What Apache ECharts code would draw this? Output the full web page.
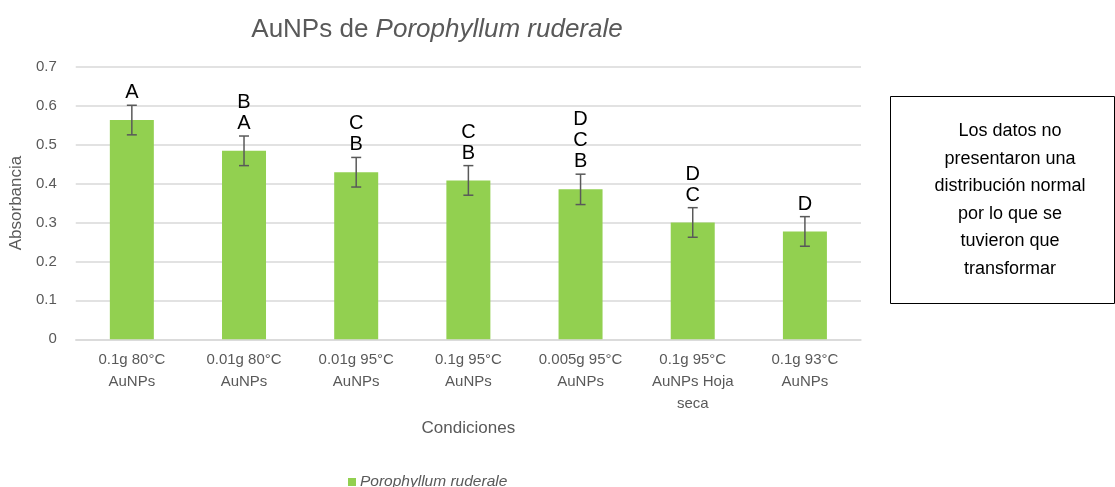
<!DOCTYPE html>
<html><head><meta charset="utf-8">
<script src="https://cdn.jsdelivr.net/npm/echarts@6/dist/echarts.min.js"></script>
<style>html,body{margin:0;padding:0;background:#fff}#c{width:1115px;height:487px}</style>
</head><body><div id="c"></div>
<script>
const categories = ["0.1g 80°C\nAuNPs","0.01g 80°C\nAuNPs","0.01g 95°C\nAuNPs","0.1g 95°C\nAuNPs","0.005g 95°C\nAuNPs","0.1g 95°C\nAuNPs Hoja\nseca","0.1g 93°C\nAuNPs"];
const values = [0.563, 0.484, 0.429, 0.408, 0.385, 0.300, 0.277];
const errors = [0.038, 0.038, 0.038, 0.038, 0.039, 0.038, 0.038];
const letters = ["A", "B\nA", "C\nB", "C\nB", "D\nC\nB", "D\nC", "D"];
const yTicks = [0, 0.1, 0.2, 0.3, 0.4, 0.5, 0.6, 0.7];
const noteText = "Los datos no\npresentaron una\ndistribución normal\npor lo que se\ntuvieron que\ntransformar";

const FONT = 'Arial, "Liberation Sans", sans-serif';
const GREY = '#595959';
const chart = echarts.init(document.getElementById('c'), null, {renderer:'canvas'});
const errData = values.map((v,i)=>[i, v - errors[i], v + errors[i], letters[i]]);

chart.setOption({
  animation:false,
  textStyle:{fontFamily:FONT},
  title:{
    text:'{n|AuNPs de }{i|Porophyllum ruderale}',
    left:432, top:12, textAlign:'center',
    textStyle:{fontWeight:'normal', rich:{
      n:{fontSize:26, color:GREY, fontFamily:FONT, fontWeight:'normal'},
      i:{fontSize:26, color:GREY, fontStyle:'italic', fontFamily:FONT, fontWeight:'normal'}
    }}
  },
  legend:{
    data:['Porophyllum ruderale'], top:469, left:343, itemWidth:8, itemHeight:8,
    icon:'rect', itemGap:5,
    textStyle:{color:GREY, fontSize:15.5, fontStyle:'italic', fontFamily:FONT, padding:[0,0,0,-1]}
  },
  grid:{left:74, right:254, top:66.7, bottom:147.7, containLabel:false},
  xAxis:{
    type:'category', data:categories,
    name:'Condiciones', nameLocation:'middle', nameGap:81,
    nameTextStyle:{color:GREY, fontSize:17, fontFamily:FONT},
    axisLine:{lineStyle:{color:'#D9D9D9', width:1.5}},
    axisTick:{show:false},
    axisLabel:{color:GREY, fontSize:15, lineHeight:22, interval:0, margin:10, fontFamily:FONT}
  },
  yAxis:{
    type:'value', min:0, max:0.7, interval:0.1,
    name:'Absorbancia', nameLocation:'middle', nameGap:46,
    nameTextStyle:{color:GREY, fontSize:17, fontFamily:FONT},
    axisLine:{show:false}, axisTick:{show:false},
    splitLine:{lineStyle:{color:'#D9D9D9', width:1.5}},
    axisLabel:{color:GREY, fontSize:15, margin:19, fontFamily:FONT,
      formatter:v=>{const t=yTicks.find(x=>Math.abs(x-v)<1e-9);return t===0?'0':String(t);}}
  },
  series:[
    {name:'Porophyllum ruderale', type:'bar', data:values, barWidth:44,
     itemStyle:{color:'#92D050'}},
    {name:'err', type:'custom', data:errData, z:5,
     renderItem:(params, api)=>{
       const i = api.value(0);
       const lo = api.coord([i, api.value(1)]);
       const hi = api.coord([i, api.value(2)]);
       const txt = letters[i];
       const cw = 5;
       const st = {stroke:'#595959', lineWidth:1.5};
       return {type:'group', children:[
         {type:'line', shape:{x1:lo[0],y1:lo[1],x2:hi[0],y2:hi[1]}, style:st},
         {type:'line', shape:{x1:lo[0]-cw,y1:lo[1],x2:lo[0]+cw,y2:lo[1]}, style:st},
         {type:'line', shape:{x1:hi[0]-cw,y1:hi[1],x2:hi[0]+cw,y2:hi[1]}, style:st},
         {type:'text', style:{text:txt, x:hi[0], y:hi[1]-2, align:'center', verticalAlign:'bottom',
           fontSize:20, lineHeight:21, fill:'#000', fontFamily:FONT}}
       ]};
     }}
  ],
  graphic:[
    {type:'rect', shape:{x:890.5, y:96.5, width:224, height:207}, style:{fill:'#fff', stroke:'#000', lineWidth:1}},
    {type:'text', style:{text:noteText, x:1010, y:200, align:'center', verticalAlign:'middle',
      fontSize:18, lineHeight:27.6, fill:'#000', fontFamily:FONT}}
  ]
});
</script></body></html>
